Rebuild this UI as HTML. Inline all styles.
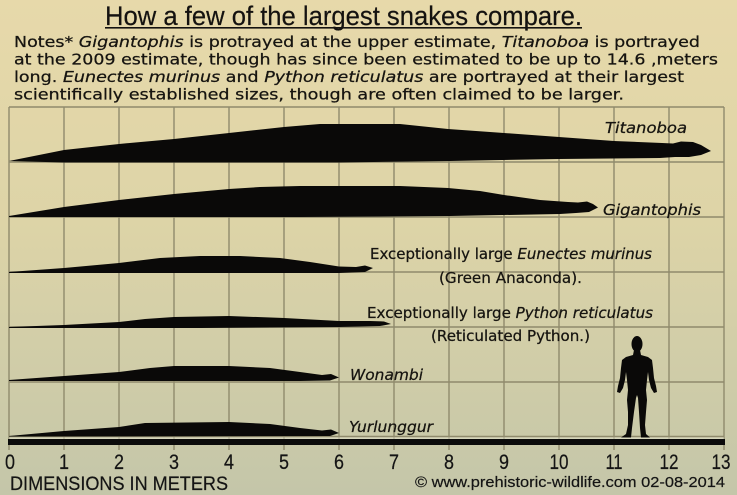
<!DOCTYPE html>
<html><head><meta charset="utf-8"><style>
html,body{margin:0;padding:0;width:737px;height:495px;overflow:hidden;background:#d9d3a9}
svg{display:block}
.n{font-family:"DejaVu Sans","Liberation Sans",sans-serif;font-size:15px;fill:#161410;stroke:#161410;stroke-width:0.25}
.l{font-family:"DejaVu Sans","Liberation Sans",sans-serif;font-size:15px;fill:#161410;stroke:#161410;stroke-width:0.25}
.ax{font-family:"Liberation Sans",sans-serif;font-size:21px;fill:#141414;stroke:#141414;stroke-width:0.2}
</style></head><body>
<svg width="737" height="495" viewBox="0 0 737 495" xmlns="http://www.w3.org/2000/svg">
<defs>
<linearGradient id="bg" x1="0" y1="0" x2="0" y2="1">
<stop offset="0" stop-color="#e7d9aa"/>
<stop offset="0.45" stop-color="#ddd4a7"/>
<stop offset="1" stop-color="#c4c6a9"/>
</linearGradient>
</defs>
<rect x="0" y="0" width="737" height="495" fill="url(#bg)"/>

<!-- title -->
<text x="105" y="25" font-family="Liberation Sans, sans-serif" font-size="27" fill="#141210" stroke="#141210" stroke-width="0.2" textLength="477" lengthAdjust="spacingAndGlyphs">How a few of the largest snakes compare.</text>
<rect x="105" y="27" width="477" height="1.6" fill="#141210"/>

<!-- notes -->
<text class="n" x="14" y="47" textLength="686" lengthAdjust="spacingAndGlyphs">Notes* <tspan font-style="italic">Gigantophis</tspan> is protrayed at the upper estimate, <tspan font-style="italic">Titanoboa</tspan> is portrayed</text>
<text class="n" x="14" y="64.5" textLength="704" lengthAdjust="spacingAndGlyphs">at the 2009 estimate, though has since been estimated to be up to 14.6 ,meters</text>
<text class="n" x="14" y="82" textLength="670" lengthAdjust="spacingAndGlyphs">long. <tspan font-style="italic">Eunectes murinus</tspan> and <tspan font-style="italic">Python reticulatus</tspan> are portrayed at their largest</text>
<text class="n" x="14" y="99.5" textLength="610" lengthAdjust="spacingAndGlyphs">scientifically established sizes, though are often claimed to be larger.</text>

<!-- grid -->
<g stroke="#8f8a6c" stroke-width="1.4" fill="none">
<path d="M9 107V450M64 107V450M119 107V450M174 107V450M229 107V450M284 107V450M339 107V450M394 107V450M449 107V450M504 107V450M559 107V450M614 107V450M669 107V450M724 107V450"/>
<path d="M9 107H724M9 162H724M9 217H724M9 272H724M9 327H724M9 382H724M9 436.5H724"/>
</g>
<rect x="9" y="437.5" width="715" height="1.2" fill="#e6e4cf" opacity="0.7"/>
<rect x="8" y="439" width="717" height="6" fill="#0b0b0b"/>

<!-- snakes -->
<g fill="#0a0908">
<path d="M9 161 L64 150 L119 144 L174 139 L229 133 L284 127 L320 124 L400 124 L448 129 L504 133 L559 137 L614 141 L662 143 L673 143.5 L681 141.5 L693 142 L701 145 L711 151 L701 155 L689 157 L675 157 L660 158 L559 159 L450 161 L339 162.5 L200 162.5 L64 162.5 Z"/>
<path d="M9 216 L64 207 L119 200 L174 194 L229 189 L260 187 L300 186 L400 186 L448 188 L480 191 L504 195 L540 200 L568 202 L578 202.5 L587 201.5 L593 204 L598 207.5 L589 212 L576 213 L560 214 L450 216 L300 217 L100 217 L9 217 Z"/>
<path d="M9 272 L64 268 L119 263 L160 258 L200 256 L240 256 L280 258 L310 262 L339 266.5 L356 267 L365 265.5 L373 268 L365 272 L339 273 L200 273 L64 273 L9 273 Z"/>
<path d="M9 327 L64 325 L119 322 L145 319 L174 317 L229 316 L284 318 L339 321 L370 321 L384 321.5 L391 324 L380 326 L339 327 L200 328 L9 328 Z"/>
<path d="M9 380 L64 376 L119 372 L150 368 L174 366 L229 366 L270 368 L300 372 L322 375 L331 374 L339 377.5 L330 380.5 L300 381 L9 381 Z"/>
<path d="M9 436 L64 431 L119 427 L145 423 L229 422 L270 424 L300 428 L322 430.5 L331 429.5 L339 433 L330 436 L9 436.5 Z"/>
</g>

<!-- human -->
<g fill="#0a0908">
<ellipse cx="637" cy="344" rx="5.5" ry="8"/>
<path d="M634 350 L640 350 L641 355 L648 357 L652 360 L653 368 L654 378 L656 386 L657 392 L654 393 L651 388 L649 380 L648 372 L647 380 L646 390 L647 400 L646 412 L645 425 L646 434 L650 437.5 L641 437.5 L640 428 L639 412 L638 398 L637 395 L636 398 L634 412 L632 428 L631 437.5 L621 437.5 L626 434 L628 425 L628 412 L627 400 L628 390 L627 380 L626 372 L625 380 L623 388 L620 393 L617 392 L618 386 L620 378 L621 368 L622 360 L626 357 L633 355 Z"/>
</g>

<!-- labels -->
<text class="l" x="605" y="133" font-size="14" font-style="italic" textLength="82" lengthAdjust="spacingAndGlyphs">Titanoboa</text>
<text class="l" x="603" y="215" font-style="italic" textLength="98" lengthAdjust="spacingAndGlyphs">Gigantophis</text>
<text class="l" x="370" y="259" font-size="14.5" textLength="282" lengthAdjust="spacingAndGlyphs">Exceptionally large <tspan font-style="italic">Eunectes murinus</tspan></text>
<text class="l" x="439" y="283" font-size="14.5" textLength="143" lengthAdjust="spacingAndGlyphs">(Green Anaconda).</text>
<text class="l" x="367" y="318" font-size="14.5" textLength="286" lengthAdjust="spacingAndGlyphs">Exceptionally large  <tspan font-style="italic">Python reticulatus</tspan></text>
<text class="l" x="431" y="341" font-size="14.5" textLength="159" lengthAdjust="spacingAndGlyphs">(Reticulated Python.)</text>
<text class="l" x="350" y="380" font-size="14" font-style="italic" textLength="73" lengthAdjust="spacingAndGlyphs">Wonambi</text>
<text class="l" x="349" y="432" font-size="14" font-style="italic" textLength="84" lengthAdjust="spacingAndGlyphs">Yurlunggur</text>

<!-- axis numbers -->
<g class="ax" text-anchor="middle">
<text x="10" y="469" textLength="10" lengthAdjust="spacingAndGlyphs">0</text><text x="64" y="469" textLength="10" lengthAdjust="spacingAndGlyphs">1</text><text x="119" y="469" textLength="10" lengthAdjust="spacingAndGlyphs">2</text><text x="174" y="469" textLength="10" lengthAdjust="spacingAndGlyphs">3</text><text x="229" y="469" textLength="10" lengthAdjust="spacingAndGlyphs">4</text><text x="284" y="469" textLength="10" lengthAdjust="spacingAndGlyphs">5</text><text x="339" y="469" textLength="10" lengthAdjust="spacingAndGlyphs">6</text><text x="394" y="469" textLength="10" lengthAdjust="spacingAndGlyphs">7</text><text x="449" y="469" textLength="10" lengthAdjust="spacingAndGlyphs">8</text><text x="504" y="469" textLength="10" lengthAdjust="spacingAndGlyphs">9</text><text x="559" y="469" textLength="19" lengthAdjust="spacingAndGlyphs">10</text><text x="614" y="469" textLength="17" lengthAdjust="spacingAndGlyphs">11</text><text x="669" y="469" textLength="19" lengthAdjust="spacingAndGlyphs">12</text><text x="721" y="469" textLength="19" lengthAdjust="spacingAndGlyphs">13</text>
</g>
<text x="10" y="490" font-family="Liberation Sans, sans-serif" font-size="19" fill="#141414" stroke="#141414" stroke-width="0.2" textLength="218" lengthAdjust="spacingAndGlyphs">DIMENSIONS IN METERS</text>
<text x="415" y="487" font-family="Liberation Sans, sans-serif" font-size="15" fill="#141414" stroke="#141414" stroke-width="0.2" textLength="310" lengthAdjust="spacingAndGlyphs">© www.prehistoric-wildlife.com 02-08-2014</text>
</svg>
</body></html>
